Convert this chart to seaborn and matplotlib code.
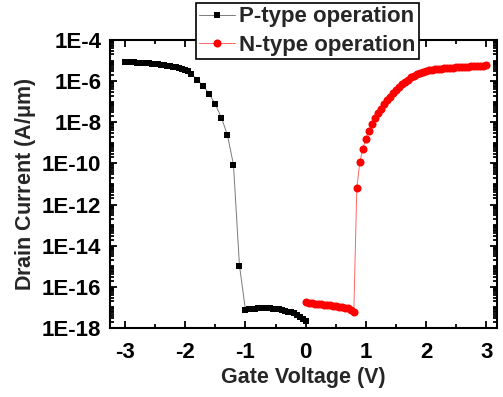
import numpy as np
import pandas as pd
import matplotlib
matplotlib.use("Agg")
import matplotlib.pyplot as plt
import matplotlib.ticker as mticker
import seaborn as sns

# ---- data ----
p_voltage = [-3.0, -2.95, -2.9, -2.85, -2.8, -2.75, -2.7, -2.65, -2.6, -2.55, -2.5, -2.45,
             -2.4, -2.35, -2.3, -2.25, -2.2, -2.15, -2.1, -2.05, -2.0, -1.95, -1.9,
             -1.8, -1.7, -1.6, -1.5, -1.4, -1.3, -1.2, -1.1,
             -1.0, -0.95, -0.9, -0.85, -0.8, -0.75, -0.7, -0.65, -0.6, -0.55, -0.5, -0.45,
             -0.4, -0.35, -0.3, -0.25, -0.2, -0.15, -0.1, -0.05, 0.0]
p_log_current = [-5.07, -5.07, -5.08, -5.09, -5.10, -5.11, -5.12, -5.13, -5.14, -5.155, -5.17, -5.185,
                 -5.20, -5.22, -5.24, -5.26, -5.29, -5.32, -5.35, -5.40, -5.45, -5.53, -5.65,
                 -5.94, -6.24, -6.64, -7.13, -7.78, -8.62, -10.06, -14.97,
                 -17.13, -17.10, -17.08, -17.06, -17.05, -17.05, -17.05, -17.05, -17.05, -17.06, -17.08, -17.10,
                 -17.13, -17.16, -17.20, -17.24, -17.28, -17.37, -17.47, -17.56, -17.66]

n_voltage = [0.0, 0.05, 0.1, 0.15, 0.2, 0.25, 0.3, 0.35, 0.4, 0.45, 0.5, 0.55, 0.6, 0.65, 0.7, 0.75, 0.8,
             0.85, 0.9, 0.95, 1.0, 1.05, 1.1, 1.15, 1.2, 1.25, 1.3, 1.35, 1.4, 1.45, 1.5, 1.55, 1.6,
             1.65, 1.7, 1.75, 1.8, 1.85, 1.9, 1.95, 2.0, 2.05, 2.1, 2.15, 2.2, 2.25, 2.3, 2.35, 2.4,
             2.45, 2.5, 2.55, 2.6, 2.65, 2.7, 2.75, 2.8, 2.85, 2.9, 2.95, 3.0]
n_log_current = [-16.75, -16.78, -16.80, -16.82, -16.84, -16.85, -16.87, -16.88, -16.90, -16.92, -16.94,
                 -16.96, -16.98, -17.01, -17.05, -17.12, -17.22,
                 -11.2, -9.95, -9.28, -8.80, -8.41, -8.08, -7.80, -7.56, -7.34, -7.13, -6.94, -6.76,
                 -6.59, -6.43, -6.28, -6.15, -6.03, -5.92, -5.82, -5.74, -5.66, -5.60, -5.55, -5.51,
                 -5.48, -5.45, -5.43, -5.41, -5.39, -5.38, -5.37, -5.35, -5.34, -5.33, -5.32, -5.31,
                 -5.30, -5.29, -5.28, -5.27, -5.26, -5.25, -5.24, -5.23]

labels = ["P-type operation", "N-type operation"]
x_ticks = [-3, -2, -1, 0, 1, 2, 3]
y_ticks = [1e-18, 1e-16, 1e-14, 1e-12, 1e-10, 1e-8, 1e-6, 1e-4]

df_p = pd.DataFrame({"V": p_voltage, "I": np.power(10.0, p_log_current)})
df_n = pd.DataFrame({"V": n_voltage, "I": np.power(10.0, n_log_current)})

sns.set_style("ticks")
plt.rcParams["font.family"] = ["Liberation Sans", "DejaVu Sans"]
plt.rcParams["font.weight"] = "bold"
plt.rcParams["mathtext.default"] = "regular"

fig = plt.figure(figsize=(5.03, 3.97), dpi=100)
ax = fig.add_axes([0.2177, 0.1738, 0.7704, 0.7254])

sns.lineplot(data=df_p, x="V", y="I", ax=ax, color="#7a7a7a", linewidth=0.7,
             marker="s", markersize=4.8, markerfacecolor="black", markeredgecolor="black",
             markeredgewidth=0, label=labels[0], sort=False)
sns.lineplot(data=df_n, x="V", y="I", ax=ax, color="#ff6666", linewidth=0.7,
             marker="o", markersize=5.8, markerfacecolor="red", markeredgecolor="red",
             markeredgewidth=0, label=labels[1], sort=False)

ax.set_yscale("log")
ax.set_xlim(-3.26, 3.18)
ax.set_ylim(1e-18, 1e-4)

ax.xaxis.set_major_locator(mticker.FixedLocator(x_ticks))
ax.xaxis.set_minor_locator(mticker.MultipleLocator(0.5))
ax.yaxis.set_major_locator(mticker.FixedLocator(y_ticks))
ax.yaxis.set_minor_locator(mticker.LogLocator(base=10, subs=np.arange(1, 10), numticks=40))
ax.yaxis.set_minor_formatter(mticker.NullFormatter())
ax.yaxis.set_major_formatter(mticker.FuncFormatter(lambda v, p: "1E-%d" % int(round(-np.log10(v)))))
ax.xaxis.set_major_formatter(mticker.FuncFormatter(lambda v, p: ("-%d" % int(round(-v))) if v < 0 else "%d" % int(round(v))))

ax.tick_params(which="both", direction="in", top=True, right=True, width=1.3, colors="black")
ax.tick_params(which="major", length=5, labelsize=16)
ax.tick_params(axis="y", which="major", pad=6)
ax.tick_params(axis="x", which="major", pad=10)
ax.tick_params(which="minor", length=3)
for lab in ax.get_xticklabels() + ax.get_yticklabels():
    lab.set_fontweight("bold")
for s in ax.spines.values():
    s.set_linewidth(1.5)
    s.set_color("black")

ax.set_xlabel("Gate Voltage (V)", fontsize=15.5, fontweight="bold", labelpad=3)
ax.set_ylabel("Drain Current (A/$\\mu$m)", fontsize=15.5, fontweight="bold", labelpad=3)

ax.get_legend().remove()
h, l = ax.get_legend_handles_labels()
leg = fig.legend(h, l, loc="upper left", bbox_to_anchor=(196 / 503, 1 - 3 / 397),
                 bbox_transform=fig.transFigure, frameon=True, fancybox=False,
                 edgecolor="black", framealpha=1, prop={"size": 16, "weight": "bold"},
                 handlelength=1.6, handletextpad=0.2, labelspacing=0.35, borderpad=0.15,
                 borderaxespad=0)
leg.get_frame().set_linewidth(1.2)

fig.savefig("out.png", dpi=100)
